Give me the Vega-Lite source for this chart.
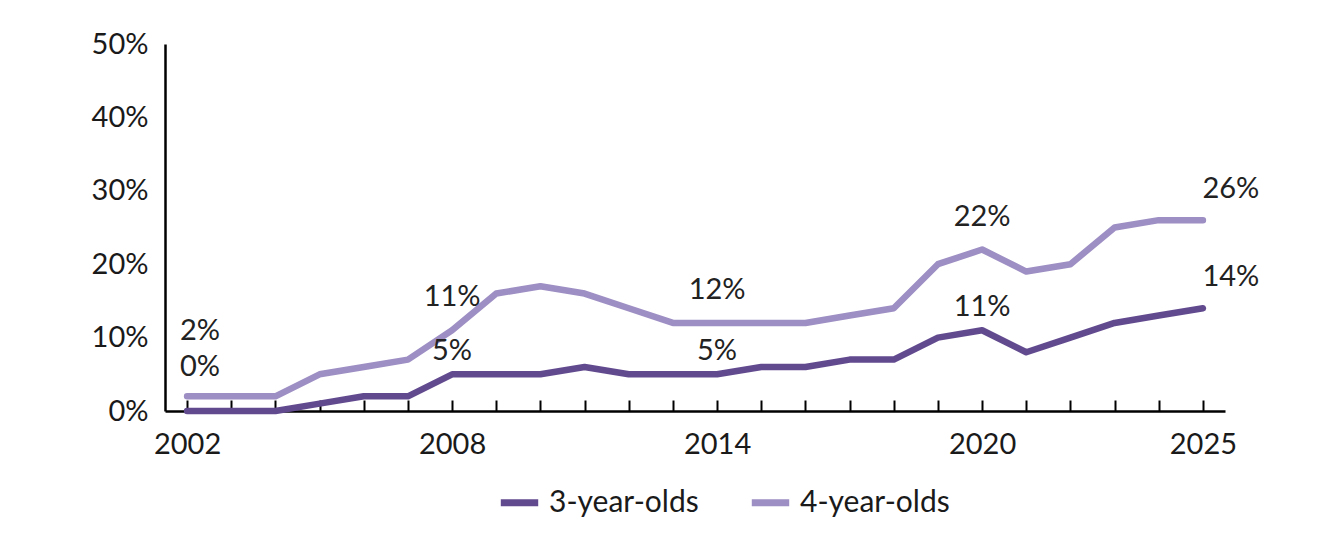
{
  "$schema": "https://vega.github.io/schema/vega-lite/v6.json",
  "width": 1060,
  "height": 367,
  "autosize": {"type": "none"},
  "padding": {"left": 165, "top": 44, "right": 109, "bottom": 130},
  "background": "white",
  "config": {
    "view": {"stroke": null},
    "font": "Lato",
    "axis": {"labelFont": "Lato", "labelFontSize": 29, "labelColor": "#1a1a1a", "domainColor": "#000000", "domainWidth": 2.5, "tickColor": "#000000", "tickWidth": 2, "grid": false, "title": null},
    "legend": {"labelFont": "Lato", "labelFontSize": 30, "labelColor": "#1a1a1a"}
  },
  "data": {
    "values": [
      {"year": 2002, "group": "3-year-olds", "value": 0.00},
      {"year": 2003, "group": "3-year-olds", "value": 0.00},
      {"year": 2004, "group": "3-year-olds", "value": 0.00},
      {"year": 2005, "group": "3-year-olds", "value": 0.01},
      {"year": 2006, "group": "3-year-olds", "value": 0.02},
      {"year": 2007, "group": "3-year-olds", "value": 0.02},
      {"year": 2008, "group": "3-year-olds", "value": 0.05},
      {"year": 2009, "group": "3-year-olds", "value": 0.05},
      {"year": 2010, "group": "3-year-olds", "value": 0.05},
      {"year": 2011, "group": "3-year-olds", "value": 0.06},
      {"year": 2012, "group": "3-year-olds", "value": 0.05},
      {"year": 2013, "group": "3-year-olds", "value": 0.05},
      {"year": 2014, "group": "3-year-olds", "value": 0.05},
      {"year": 2015, "group": "3-year-olds", "value": 0.06},
      {"year": 2016, "group": "3-year-olds", "value": 0.06},
      {"year": 2017, "group": "3-year-olds", "value": 0.07},
      {"year": 2018, "group": "3-year-olds", "value": 0.07},
      {"year": 2019, "group": "3-year-olds", "value": 0.10},
      {"year": 2020, "group": "3-year-olds", "value": 0.11},
      {"year": 2021, "group": "3-year-olds", "value": 0.08},
      {"year": 2022, "group": "3-year-olds", "value": 0.10},
      {"year": 2023, "group": "3-year-olds", "value": 0.12},
      {"year": 2024, "group": "3-year-olds", "value": 0.13},
      {"year": 2025, "group": "3-year-olds", "value": 0.14},
      {"year": 2002, "group": "4-year-olds", "value": 0.02},
      {"year": 2003, "group": "4-year-olds", "value": 0.02},
      {"year": 2004, "group": "4-year-olds", "value": 0.02},
      {"year": 2005, "group": "4-year-olds", "value": 0.05},
      {"year": 2006, "group": "4-year-olds", "value": 0.06},
      {"year": 2007, "group": "4-year-olds", "value": 0.07},
      {"year": 2008, "group": "4-year-olds", "value": 0.11},
      {"year": 2009, "group": "4-year-olds", "value": 0.16},
      {"year": 2010, "group": "4-year-olds", "value": 0.17},
      {"year": 2011, "group": "4-year-olds", "value": 0.16},
      {"year": 2012, "group": "4-year-olds", "value": 0.14},
      {"year": 2013, "group": "4-year-olds", "value": 0.12},
      {"year": 2014, "group": "4-year-olds", "value": 0.12},
      {"year": 2015, "group": "4-year-olds", "value": 0.12},
      {"year": 2016, "group": "4-year-olds", "value": 0.12},
      {"year": 2017, "group": "4-year-olds", "value": 0.13},
      {"year": 2018, "group": "4-year-olds", "value": 0.14},
      {"year": 2019, "group": "4-year-olds", "value": 0.20},
      {"year": 2020, "group": "4-year-olds", "value": 0.22},
      {"year": 2021, "group": "4-year-olds", "value": 0.19},
      {"year": 2022, "group": "4-year-olds", "value": 0.20},
      {"year": 2023, "group": "4-year-olds", "value": 0.25},
      {"year": 2024, "group": "4-year-olds", "value": 0.26},
      {"year": 2025, "group": "4-year-olds", "value": 0.26}
    ]
  },
  "encoding": {
    "x": {
      "field": "year", "type": "quantitative",
      "scale": {"domain": [2001.5, 2025.5], "nice": false, "zero": false},
      "axis": {
        "values": [2002,2003,2004,2005,2006,2007,2008,2009,2010,2011,2012,2013,2014,2015,2016,2017,2018,2019,2020,2021,2022,2023,2024,2025],
        "format": "d",
        "labelExpr": "indexof([2002,2008,2014,2020,2025], datum.value) >= 0 ? datum.label : ''",
        "tickSize": -11,
        "labelPadding": 30,
        "labelOverlap": false,
        "labelFlush": false
      }
    },
    "y": {
      "field": "value", "type": "quantitative",
      "scale": {"domain": [0, 0.5], "nice": false},
      "axis": {"values": [0, 0.1, 0.2, 0.3, 0.4, 0.5], "format": ".0%", "ticks": false, "labelPadding": 17}
    }
  },
  "layer": [
    {
      "mark": {"type": "line", "strokeWidth": 6.5, "strokeCap": "round", "strokeJoin": "round"},
      "encoding": {
        "color": {
          "field": "group", "type": "nominal",
          "scale": {"domain": ["3-year-olds", "4-year-olds"], "range": ["#624a8f", "#9d8ec3"]},
          "legend": {
            "title": null, "orient": "none", "direction": "horizontal",
            "legendX": 332, "legendY": 436,
            "symbolType": "stroke", "symbolStrokeWidth": 7, "symbolSize": 1400,
            "labelOffset": 7, "columnPadding": 38
          }
        }
      }
    },
    {
      "transform": [{"filter": "(datum.year == 2008 || datum.year == 2014 || datum.year == 2020) && datum.group == '4-year-olds'"}],
      "mark": {"type": "text", "fontSize": 29, "color": "#222222", "baseline": "middle", "align": "center", "dy": -33},
      "encoding": {"text": {"field": "value", "type": "quantitative", "format": ".0%"}}
    },
    {
      "transform": [{"filter": "(datum.year == 2008 || datum.year == 2014 || datum.year == 2020) && datum.group == '3-year-olds'"}],
      "mark": {"type": "text", "fontSize": 29, "color": "#222222", "baseline": "middle", "align": "center", "dy": -23},
      "encoding": {"text": {"field": "value", "type": "quantitative", "format": ".0%"}}
    },
    {
      "transform": [{"filter": "datum.year == 2002 && datum.group == '4-year-olds'"}],
      "mark": {"type": "text", "fontSize": 29, "color": "#222222", "baseline": "middle", "align": "center", "dx": 13, "dy": -65},
      "encoding": {"text": {"field": "value", "type": "quantitative", "format": ".0%"}}
    },
    {
      "transform": [{"filter": "datum.year == 2002 && datum.group == '3-year-olds'"}],
      "mark": {"type": "text", "fontSize": 29, "color": "#222222", "baseline": "middle", "align": "center", "dx": 13, "dy": -44},
      "encoding": {"text": {"field": "value", "type": "quantitative", "format": ".0%"}}
    },
    {
      "transform": [{"filter": "datum.year == 2025"}],
      "mark": {"type": "text", "fontSize": 29, "color": "#222222", "baseline": "middle", "align": "center", "dx": 28, "dy": -31},
      "encoding": {"text": {"field": "value", "type": "quantitative", "format": ".0%"}}
    }
  ]
}
